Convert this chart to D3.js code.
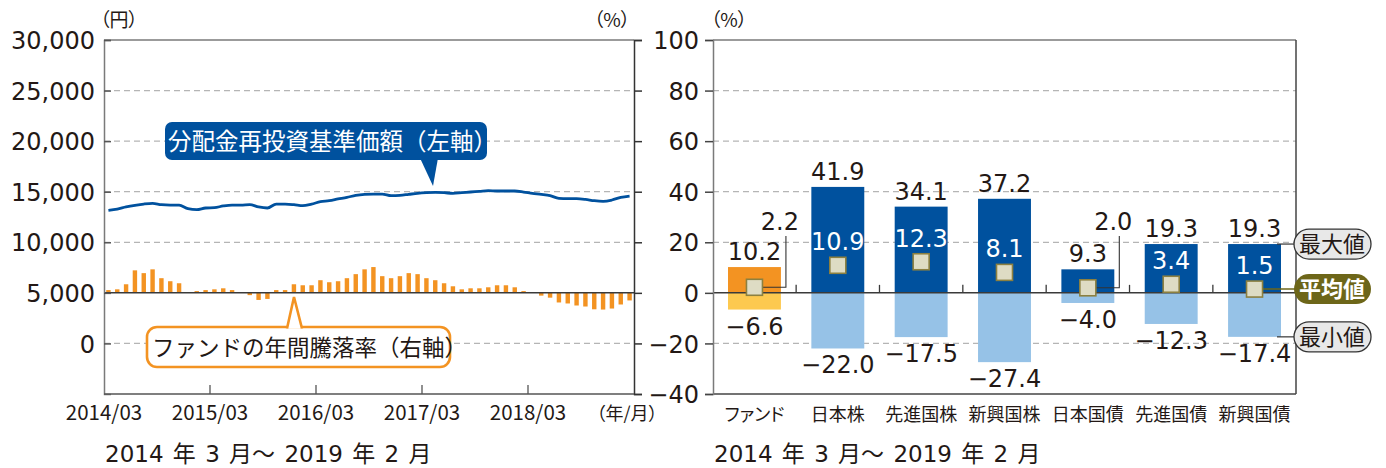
<!DOCTYPE html>
<html>
<head>
<meta charset="utf-8">
<script src="https://cdn.jsdelivr.net/npm/d3@7"></script>
<style>
  body { margin: 0; background: #fff; }
  svg { display: block; }
  .jp { font-family: 'Noto Sans CJK JP', sans-serif; font-feature-settings: "palt"; }
  .num { font-family: 'DejaVu Sans', 'Noto Sans CJK JP', sans-serif; }
</style>
</head>
<body>
<svg id="chart" width="1386" height="468"></svg>
<script>
// ---- data ----
// fund NAV (dividends reinvested), yen, monthly 2014/03 - 2019/02
const navValues = [
  13160, 13290, 13490, 13650, 13780, 13850, 13720, 13680, 13680, 13320,
  13220, 13390, 13420, 13590, 13680, 13680, 13720, 13490, 13390, 13780,
  13780, 13720, 13620, 13780, 14010, 14110, 14280, 14440, 14640, 14740,
  14770, 14770, 14610, 14640, 14740, 14840, 14900, 14930, 14900, 14840,
  14900, 14970, 15030, 15100, 15070, 15070, 15070, 14970, 14840, 14740,
  14610, 14340, 14310, 14310, 14240, 14110, 14050, 14180, 14440, 14570
];
// fund annual return, %
const fundReturns = [
  1.1, 1.4, 3.4, 8.9, 7.8, 9.3, 5.8, 4.6, 3.8, 0.3,
  0.7, 1.1, 1.4, 1.8, 1.1, 0.1, -0.9, -2.8, -2.4, 1.1,
  1.1, 3.4, 3.0, 3.0, 5.0, 4.2, 4.6, 5.8, 7.4, 9.3,
  10.2, 6.6, 5.8, 6.6, 7.8, 7.4, 5.8, 5.0, 3.8, 2.6,
  1.4, 1.8, 1.8, 2.2, 3.0, 3.0, 2.2, 0.7, 0.1, -1.1,
  -1.9, -3.8, -4.2, -5.0, -5.4, -6.5, -6.6, -6.2, -4.6, -3.0
];
const monthTicks = ["2014/03", "2015/03", "2016/03", "2017/03", "2018/03"];

const categories = ["ファンド", "日本株", "先進国株", "新興国株", "日本国債", "先進国債", "新興国債"];
const maxValues = [10.2, 41.9, 34.1, 37.2, 9.3, 19.3, 19.3];
const avgValues = [2.2, 10.9, 12.3, 8.1, 2.0, 3.4, 1.5];
const minValues = [-6.6, -22.0, -17.5, -27.4, -4.0, -12.3, -17.4];

const yenTicks = [0, 5000, 10000, 15000, 20000, 25000, 30000];
const pctTicks = [-40, -20, 0, 20, 40, 60, 80, 100];

// ---- setup ----
const ink = "#231815";
const blue = "#00519e", lightBlue = "#96c2e7";
const orange = "#f39322", yellow = "#fdc94f";
const olive = "#6d6619";

const svg = d3.select("#chart");
const plotTop = 40, plotBottom = 394;

// months as categories
const months = d3.range(navValues.length);

const x = d3.scaleBand()
  .domain(months)
  .range([104, 634])
  .paddingInner(0.5)
  .paddingOuter(0.25);
const xc = i => x(i) + x.bandwidth() / 2;
const xEdge = i => xc(i) - x.step() / 2;

const yL = d3.scaleLinear().domain([-5000, 30000]).range([plotBottom, plotTop]);
const yR = d3.scaleLinear().domain([-40, 100]).range([plotBottom, plotTop]);

const x2 = d3.scaleBand()
  .domain(categories)
  .range([713, 1296])
  .paddingInner(0.365)
  .paddingOuter(0.18);

// ---------------- left chart ----------------
const left = svg.append("g");

// grid lines
left.append("g")
  .selectAll("line")
  .data([0, 10000, 15000, 20000, 25000])
  .join("line")
    .attr("x1", 104).attr("x2", 634)
    .attr("y1", d => yL(d)).attr("y2", d => yL(d))
    .attr("stroke", "#b5b5b5").attr("stroke-width", 1.3)
    .attr("stroke-dasharray", "6,4");

// top border
left.append("line")
  .attr("x1", 104).attr("x2", 634).attr("y1", plotTop).attr("y2", plotTop)
  .attr("stroke", "#7a7a7a").attr("stroke-width", 1.5);

// bars (right axis)
left.append("g")
  .attr("fill", orange)
  .selectAll("rect")
  .data(fundReturns)
  .join("rect")
    .attr("x", (d, i) => x(i))
    .attr("width", x.bandwidth())
    .attr("y", d => yR(Math.max(0, d)))
    .attr("height", d => Math.abs(yR(d) - yR(0)));

// zero line
left.append("line")
  .attr("x1", 104).attr("x2", 634).attr("y1", yR(0)).attr("y2", yR(0))
  .attr("stroke", "#3a3a3a").attr("stroke-width", 1.5);

// nav line
left.append("path")
  .datum(navValues)
  .attr("fill", "none")
  .attr("stroke", blue)
  .attr("stroke-width", 2.8)
  .attr("stroke-linejoin", "round")
  .attr("d", d3.line().x((d, i) => xc(i)).y(d => yL(d)).curve(d3.curveMonotoneX));

// left axis
left.append("g")
  .attr("transform", "translate(104,0)")
  .call(d3.axisLeft(yL).tickValues(yenTicks).tickSize(-7).tickPadding(9).tickFormat(d3.format(",")))
  .call(g => g.select(".domain").attr("stroke", "#7a7a7a").attr("stroke-width", 1.5))
  .call(g => g.selectAll(".tick line").attr("stroke", "#555").attr("stroke-width", 1.5))
  .call(g => g.selectAll("text").attr("class", "num").attr("font-size", 24).attr("fill", ink).attr("dy", "0.36em"));

// right axis (ticks only, labels shared with right chart)
left.append("g")
  .attr("transform", "translate(634,0)")
  .call(d3.axisRight(yR).tickValues(pctTicks).tickSize(8).tickFormat(""))
  .call(g => g.select(".domain").attr("stroke", "#333").attr("stroke-width", 1.5))
  .call(g => g.selectAll(".tick line").attr("stroke", "#333").attr("stroke-width", 1.5));

// bottom axis
left.append("line")
  .attr("x1", 104).attr("x2", 634).attr("y1", plotBottom).attr("y2", plotBottom)
  .attr("stroke", "#555").attr("stroke-width", 1.5);

const tickIdx = monthTicks.map((t, k) => k * 12);
left.append("g")
  .selectAll("line")
  .data(tickIdx.slice(1))
  .join("line")
    .attr("x1", d => xEdge(d)).attr("x2", d => xEdge(d))
    .attr("y1", plotBottom).attr("y2", plotBottom - 9)
    .attr("stroke", "#555").attr("stroke-width", 1.3);

left.append("g")
  .selectAll("text")
  .data(monthTicks)
  .join("text")
    .attr("class", "jp")
    .attr("x", (d, k) => xEdge(tickIdx[k]))
    .attr("y", 420)
    .attr("text-anchor", "middle")
    .attr("font-size", 20.5)
    .attr("fill", ink)
    .text(d => d);

left.append("text").attr("class", "jp")
  .attr("x", 627).attr("y", 420).attr("text-anchor", "middle")
  .attr("font-size", 18).attr("fill", ink).text("（年/月）");

left.append("text").attr("class", "jp")
  .attr("x", 119).attr("y", 27).attr("text-anchor", "middle")
  .attr("font-size", 19).attr("fill", ink).text("（円）");
left.append("text").attr("class", "jp")
  .attr("x", 612).attr("y", 27).attr("text-anchor", "middle")
  .attr("font-size", 19).attr("fill", ink).text("（%）");

// blue callout
const bc = left.append("g");
bc.append("path")
  .attr("d", "M420,158 L433,186 L438,158 Z")
  .attr("fill", blue);
bc.append("rect")
  .attr("x", 165).attr("y", 122).attr("width", 322).attr("height", 38)
  .attr("rx", 7).attr("fill", blue);
bc.append("text").attr("class", "jp")
  .attr("x", 168).attr("y", 150)
  .attr("font-size", 23.5).attr("fill", "#fff")
  .style("font-feature-settings", "normal")
  .text("分配金再投資基準価額（左軸）");

// orange callout
const oc = left.append("g");
oc.append("rect")
  .attr("x", 147).attr("y", 327).attr("width", 303).attr("height", 40)
  .attr("rx", 10).attr("fill", "#fff").attr("stroke", orange).attr("stroke-width", 2.6);
oc.append("path")
  .attr("d", "M287,328.5 L294,297 L302,328.5")
  .attr("fill", "#fff").attr("stroke", orange).attr("stroke-width", 2.6)
  .attr("stroke-linejoin", "miter");
oc.append("text").attr("class", "jp")
  .attr("x", 152).attr("y", 356)
  .attr("font-size", 22.5).attr("fill", ink)
  .style("font-feature-settings", "normal")
  .text("ファンドの年間騰落率（右軸）");

left.append("text").attr("class", "num")
  .attr("x", 105).attr("y", 462)
  .attr("font-size", 23).attr("fill", ink)
  .attr("word-spacing", 2)
  .text("2014 年 3 月～ 2019 年 2 月");

// ---------------- right chart ----------------
const right = svg.append("g");

right.append("g")
  .selectAll("line")
  .data([-20, 20, 40, 60, 80])
  .join("line")
    .attr("x1", 713).attr("x2", 1296)
    .attr("y1", d => yR(d)).attr("y2", d => yR(d))
    .attr("stroke", "#b5b5b5").attr("stroke-width", 1.3)
    .attr("stroke-dasharray", "6,4");

right.append("line")
  .attr("x1", 713).attr("x2", 1296).attr("y1", plotTop).attr("y2", plotTop)
  .attr("stroke", "#7a7a7a").attr("stroke-width", 1.5);
right.append("line")
  .attr("x1", 1296).attr("x2", 1296).attr("y1", plotTop).attr("y2", plotBottom)
  .attr("stroke", "#444").attr("stroke-width", 1.5);
right.append("line")
  .attr("x1", 713).attr("x2", 1296).attr("y1", plotBottom).attr("y2", plotBottom)
  .attr("stroke", "#444").attr("stroke-width", 1.5);

const bw = x2.bandwidth();

// max bars
right.append("g")
  .selectAll("rect")
  .data(categories)
  .join("rect")
    .attr("x", d => x2(d))
    .attr("width", bw)
    .attr("y", (d, i) => yR(maxValues[i]))
    .attr("height", (d, i) => yR(0) - yR(maxValues[i]))
    .attr("fill", (d, i) => i === 0 ? orange : blue);

// min bars
right.append("g")
  .selectAll("rect")
  .data(categories)
  .join("rect")
    .attr("x", d => x2(d))
    .attr("width", bw)
    .attr("y", yR(0))
    .attr("height", (d, i) => yR(minValues[i]) - yR(0))
    .attr("fill", (d, i) => i === 0 ? yellow : lightBlue);

// zero line + separators
right.append("line")
  .attr("x1", 713).attr("x2", 1296).attr("y1", yR(0)).attr("y2", yR(0))
  .attr("stroke", "#3a3a3a").attr("stroke-width", 1.5);
right.append("g")
  .selectAll("line")
  .data(categories.slice(1))
  .join("line")
    .attr("x1", d => x2(d) - x2.step() * x2.paddingInner() / 2)
    .attr("x2", d => x2(d) - x2.step() * x2.paddingInner() / 2)
    .attr("y1", yR(0)).attr("y2", yR(0) - 8)
    .attr("stroke", "#3a3a3a").attr("stroke-width", 1.3);

// left axis of right chart (labels shared)
right.append("g")
  .attr("transform", "translate(713,0)")
  .call(d3.axisLeft(yR).tickValues(pctTicks).tickSize(8).tickPadding(6)
    .tickFormat(d => d < 0 ? "−" + Math.abs(d) : d))
  .call(g => g.select(".domain").attr("stroke", "#7a7a7a").attr("stroke-width", 1.5))
  .call(g => g.selectAll(".tick line").attr("stroke", "#444").attr("stroke-width", 1.5))
  .call(g => g.selectAll("text").attr("class", "num").attr("font-size", 24).attr("fill", ink).attr("dy", "0.36em"));

right.append("text").attr("class", "jp")
  .attr("x", 729).attr("y", 27).attr("text-anchor", "middle")
  .attr("font-size", 19).attr("fill", ink).text("（%）");

const fmt = d3.format(".1f");
const signed = v => v < 0 ? "−" + fmt(Math.abs(v)) : fmt(v);

// max labels
right.append("g")
  .selectAll("text")
  .data(categories)
  .join("text")
    .attr("class", "num")
    .attr("x", d => x2(d) + bw / 2)
    .attr("y", (d, i) => yR(maxValues[i]) - 7)
    .attr("text-anchor", "middle")
    .attr("font-size", 24).attr("fill", ink)
    .text((d, i) => fmt(maxValues[i]));

// min labels
right.append("g")
  .selectAll("text")
  .data(categories)
  .join("text")
    .attr("class", "num")
    .attr("x", d => x2(d) + bw / 2)
    .attr("y", (d, i) => yR(minValues[i]) + 25)
    .attr("text-anchor", "middle")
    .attr("font-size", 24).attr("fill", ink)
    .text((d, i) => signed(minValues[i]));

// average: labels inside the big bars, leader lines for the small ones
const outside = i => maxValues[i] < 15;
categories.forEach((c, i) => {
  const cx = x2(c) + bw / 2;
  const cy = yR(avgValues[i]);
  if (outside(i)) {
    const lx = x2(c) + bw + 5;
    right.append("path")
      .attr("d", `M${cx},${cy} H${lx} V${yR(22.5)}`)
      .attr("fill", "none").attr("stroke", "#333").attr("stroke-width", 1.1);
    right.append("text").attr("class", "num")
      .attr("x", lx - 6).attr("y", 230)
      .attr("text-anchor", "middle")
      .attr("font-size", 24).attr("fill", ink)
      .text(fmt(avgValues[i]));
  } else {
    right.append("text").attr("class", "num")
      .attr("x", cx).attr("y", cy - 15)
      .attr("text-anchor", "middle")
      .attr("font-size", 24).attr("fill", "#fff")
      .text(fmt(avgValues[i]));
  }
});

// legend leader lines (on the last category)
const li = categories.length - 1;
const lastX = x2(categories[li]);
right.append("line")
  .attr("x1", lastX + bw - 4).attr("x2", 1295)
  .attr("y1", yR(maxValues[li])).attr("y2", yR(maxValues[li]))
  .attr("stroke", "#333").attr("stroke-width", 1.2);
right.append("line")
  .attr("x1", lastX + bw / 2).attr("x2", 1295)
  .attr("y1", yR(avgValues[li])).attr("y2", yR(avgValues[li]))
  .attr("stroke", olive).attr("stroke-width", 1.4);
right.append("line")
  .attr("x1", lastX + bw - 4).attr("x2", 1295)
  .attr("y1", yR(minValues[li])).attr("y2", yR(minValues[li]))
  .attr("stroke", "#333").attr("stroke-width", 1.2);

// average markers
right.append("g")
  .selectAll("rect")
  .data(categories)
  .join("rect")
    .attr("x", d => x2(d) + bw / 2 - 8)
    .attr("y", (d, i) => yR(avgValues[i]) - 8)
    .attr("width", 16).attr("height", 16)
    .attr("fill", "#dedcc4")
    .attr("stroke", "#8c8040").attr("stroke-width", 1.6);

// legend pills
const pills = [
  { label: "最大値", v: maxValues[li], fill: "#e8e8e8", color: ink, stroke: "#333" },
  { label: "平均値", v: avgValues[li], fill: olive, color: "#fff", stroke: "none" },
  { label: "最小値", v: minValues[li], fill: "#e8e8e8", color: ink, stroke: "#333" }
];
const pg = right.append("g")
  .selectAll("g")
  .data(pills)
  .join("g")
    .attr("transform", d => `translate(1332,${yR(d.v)})`);
pg.append("rect")
  .attr("x", -38).attr("y", -15).attr("width", 77).attr("height", 30)
  .attr("rx", 15)
  .attr("fill", d => d.fill).attr("stroke", d => d.stroke).attr("stroke-width", 1.3);
pg.append("text").attr("class", "jp")
  .attr("y", 8).attr("text-anchor", "middle")
  .attr("font-size", 22).attr("fill", d => d.color)
  .attr("font-weight", d => d.label === "平均値" ? 700 : 400)
  .text(d => d.label);

// category labels
right.append("g")
  .selectAll("text")
  .data(categories)
  .join("text")
    .attr("class", "jp")
    .attr("x", d => x2(d) + bw / 2)
    .attr("y", 421)
    .attr("text-anchor", "middle")
    .attr("font-size", 18).attr("fill", ink)
    .text(d => d);

right.append("text").attr("class", "num")
  .attr("x", 714).attr("y", 462)
  .attr("font-size", 23).attr("fill", ink)
  .attr("word-spacing", 2)
  .text("2014 年 3 月～ 2019 年 2 月");
</script>
</body>
</html>
